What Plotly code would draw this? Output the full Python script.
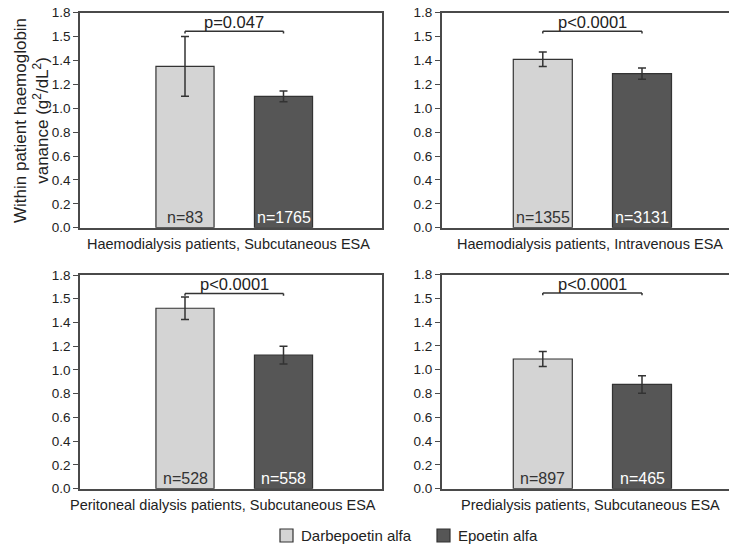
import plotly.graph_objects as go

# ---------------- data ----------------
groups = ["Darbepoetin alfa", "Epoetin alfa"]
panel_titles = [
    "Haemodialysis patients, Subcutaneous ESA",
    "Haemodialysis patients, Intravenous ESA",
    "Peritoneal dialysis patients, Subcutaneous ESA",
    "Predialysis patients, Subcutaneous ESA",
]
darbe_vals = [1.35, 1.41, 1.52, 1.09]
darbe_err = [0.25, 0.06, 0.095, 0.063]
epo_vals = [1.10, 1.29, 1.125, 0.876]
epo_err = [0.045, 0.048, 0.075, 0.073]
darbe_n = ["n=83", "n=1355", "n=528", "n=897"]
epo_n = ["n=1765", "n=3131", "n=558", "n=465"]
p_labels = ["p=0.047", "p<0.0001", "p<0.0001", "p<0.0001"]
bracket_y = [1.645, 1.645, 1.645, 1.645]
ytick_vals = [0.0, 0.2, 0.4, 0.6, 0.8, 1.0, 1.2, 1.4, 1.6, 1.8]
ytick_text = ["0.0", "0.2", "0.4", "0.6", "0.8", "1.0", "1.2", "1.4", "1.5", "1.8"]

# ---------------- styling ----------------
W, H = 729, 544
FONT = "Liberation Sans, Arial, Helvetica, sans-serif"
LIGHT = "#d4d4d4"
DARK = "#565656"
EDGE = "#333333"
AXC = "#4a4a4a"
TXT = "#222222"


def px_x(p):
    return p / W


def px_y(p):
    return 1 - p / H


# panel pixel boxes: (left, right, top, bottom)
boxes = [
    (80, 382, 12.7, 227.7),
    (441.7, 729, 12.7, 227.7),
    (80, 382, 275, 488.7),
    (441.7, 729, 274.5, 488.7),
]
xranges = [[-1.066, 2.0], [-1.019, 1.877], [-1.066, 2.0], [-1.019, 1.877]]
bar_w = [0.59, 0.595, 0.59, 0.595]
title_pos = [(228, 244), (590, 244), (223, 505), (590, 505)]

fig = go.Figure()
layout = dict(
    width=W, height=H,
    margin=dict(l=0, r=0, t=0, b=0),
    template="none",
    paper_bgcolor="white", plot_bgcolor="white",
    font=dict(family=FONT, size=14, color=TXT),
    barmode="group",
    showlegend=False,
)
annotations = []
shapes = []

for i in range(4):
    k = "" if i == 0 else str(i + 1)
    xa, ya = "x" + k, "y" + k
    l, r, t, b = boxes[i]
    layout["xaxis" + k] = dict(
        domain=[px_x(l), min(1.0, px_x(r))], range=xranges[i], anchor=ya,
        showline=True, linecolor=AXC, linewidth=1.5, mirror=True,
        showticklabels=False, ticks="", showgrid=False, zeroline=False,
        automargin=False, tickmode="array", tickvals=[0, 1],
    )
    layout["yaxis" + k] = dict(
        domain=[px_y(b), px_y(t)], range=[0, 1.8], anchor=xa,
        showline=True, linecolor=AXC, linewidth=1.5, mirror=(i % 2 == 0),
        ticks="outside", ticklen=5, tickwidth=1.2, tickcolor=AXC,
        tickmode="array", tickvals=ytick_vals, ticktext=ytick_text,
        tickfont=dict(size=13.5, color=TXT), showgrid=False, zeroline=False,
        automargin=False,
    )
    fig.add_trace(go.Bar(
        x=[0], y=[darbe_vals[i]], width=[bar_w[i]], name=groups[0],
        marker=dict(color=LIGHT, line=dict(color=EDGE, width=1.2)),
        error_y=dict(type="data", array=[darbe_err[i]], color=EDGE, thickness=1.5, width=4),
        xaxis=xa, yaxis=ya,
    ))
    fig.add_trace(go.Bar(
        x=[1], y=[epo_vals[i]], width=[bar_w[i]], name=groups[1],
        marker=dict(color=DARK, line=dict(color=EDGE, width=1.2)),
        error_y=dict(type="data", array=[epo_err[i]], color=EDGE, thickness=1.5, width=4),
        xaxis=xa, yaxis=ya,
    ))
    # n labels
    annotations.append(dict(x=0, y=0, xref=xa, yref=ya, text=darbe_n[i], showarrow=False,
                            yanchor="bottom", font=dict(size=16, color="#333333")))
    annotations.append(dict(x=1, y=0, xref=xa, yref=ya, text=epo_n[i], showarrow=False,
                            yanchor="bottom", font=dict(size=16, color="white")))
    # bracket
    by = bracket_y[i]
    for (x0, y0, x1, y1) in [(0, by, 1, by), (0, by, 0, by - 0.02), (1, by, 1, by - 0.02)]:
        shapes.append(dict(type="line", xref=xa, yref=ya, x0=x0, y0=y0, x1=x1, y1=y1,
                           line=dict(color=EDGE, width=1.5)))
    annotations.append(dict(x=0.5, y=by, xref=xa, yref=ya, text=p_labels[i], showarrow=False,
                            yanchor="bottom", yshift=-2, font=dict(size=16.5, color=TXT)))
    # panel caption
    tx, ty = title_pos[i]
    annotations.append(dict(x=px_x(tx), y=px_y(ty), xref="paper", yref="paper",
                            text=panel_titles[i], showarrow=False, xanchor="center",
                            yanchor="middle", font=dict(size=14.5, color=TXT)))

# y-axis title
annotations.append(dict(x=px_x(31), y=px_y(121), xref="paper", yref="paper",
                        text="Within patient haemoglobin<br>vanance (g<sup>2</sup>/dL<sup>2</sup>)",
                        textangle=-90, showarrow=False, xanchor="center", yanchor="middle",
                        font=dict(size=17, color=TXT)))

# legend (drawn as boxes + labels)
legend_colors = [LIGHT, DARK]
legend_box_x = [280, 437]
for name, col, bx in zip(groups, legend_colors, legend_box_x):
    shapes.append(dict(type="rect", xref="paper", yref="paper",
                       x0=px_x(bx), x1=px_x(bx + 13), y0=px_y(542), y1=px_y(529),
                       fillcolor=col, line=dict(color=EDGE, width=1.2)))
    annotations.append(dict(x=px_x(bx + 19), y=px_y(535.5), xref="paper", yref="paper",
                            text=name, showarrow=False, xanchor="left", yanchor="middle",
                            font=dict(size=15, color=TXT)))

layout["annotations"] = annotations
layout["shapes"] = shapes
fig.update_layout(**layout)
fig.write_html("out.html", config={"displayModeBar": False},
               post_script="document.body.style.margin='0px';document.body.style.overflow='hidden';")
